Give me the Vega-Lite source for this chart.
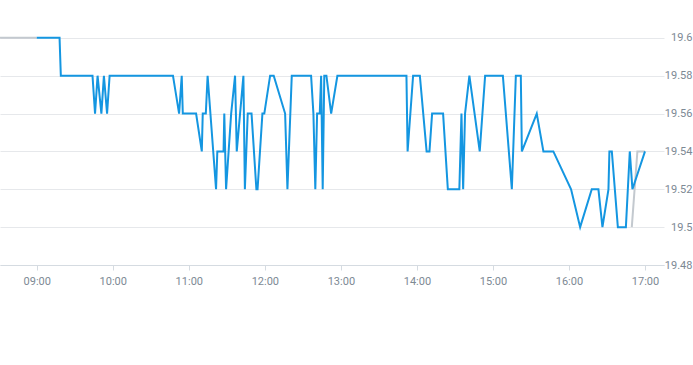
{
  "$schema": "https://vega.github.io/schema/vega-lite/v6.json",
  "width": 664,
  "height": 265,
  "padding": {"left": 0, "top": 0, "right": 29, "bottom": 100},
  "autosize": {"type": "none"},
  "background": "white",
  "config": {
    "view": {"stroke": null},
    "font": "Roboto",
    "axis": {"labelFont": "Roboto", "labelFontSize": 11, "labelColor": "#7d8994"}
  },
  "datasets": {
    "main": [
      {"t": "2024-01-02T09:00:00", "p": 19.60},
      {"t": "2024-01-02T09:18:00", "p": 19.60},
      {"t": "2024-01-02T09:19:00", "p": 19.58},
      {"t": "2024-01-02T09:44:00", "p": 19.58},
      {"t": "2024-01-02T09:46:00", "p": 19.56},
      {"t": "2024-01-02T09:48:00", "p": 19.58},
      {"t": "2024-01-02T09:51:00", "p": 19.56},
      {"t": "2024-01-02T09:53:00", "p": 19.58},
      {"t": "2024-01-02T09:55:30", "p": 19.56},
      {"t": "2024-01-02T09:57:30", "p": 19.58},
      {"t": "2024-01-02T10:47:30", "p": 19.58},
      {"t": "2024-01-02T10:52:20", "p": 19.56},
      {"t": "2024-01-02T10:54:25", "p": 19.58},
      {"t": "2024-01-02T10:55:15", "p": 19.56},
      {"t": "2024-01-02T11:05:45", "p": 19.56},
      {"t": "2024-01-02T11:10:15", "p": 19.54},
      {"t": "2024-01-02T11:11:00", "p": 19.56},
      {"t": "2024-01-02T11:13:25", "p": 19.56},
      {"t": "2024-01-02T11:14:50", "p": 19.58},
      {"t": "2024-01-02T11:21:30", "p": 19.52},
      {"t": "2024-01-02T11:22:30", "p": 19.54},
      {"t": "2024-01-02T11:27:25", "p": 19.54},
      {"t": "2024-01-02T11:28:00", "p": 19.56},
      {"t": "2024-01-02T11:29:25", "p": 19.52},
      {"t": "2024-01-02T11:33:25", "p": 19.56},
      {"t": "2024-01-02T11:36:30", "p": 19.58},
      {"t": "2024-01-02T11:37:50", "p": 19.54},
      {"t": "2024-01-02T11:43:05", "p": 19.58},
      {"t": "2024-01-02T11:44:15", "p": 19.52},
      {"t": "2024-01-02T11:46:30", "p": 19.56},
      {"t": "2024-01-02T11:49:30", "p": 19.56},
      {"t": "2024-01-02T11:53:20", "p": 19.52},
      {"t": "2024-01-02T11:54:15", "p": 19.52},
      {"t": "2024-01-02T11:58:05", "p": 19.56},
      {"t": "2024-01-02T11:59:35", "p": 19.56},
      {"t": "2024-01-02T12:04:10", "p": 19.58},
      {"t": "2024-01-02T12:07:00", "p": 19.58},
      {"t": "2024-01-02T12:16:00", "p": 19.56},
      {"t": "2024-01-02T12:17:50", "p": 19.52},
      {"t": "2024-01-02T12:21:15", "p": 19.58},
      {"t": "2024-01-02T12:36:30", "p": 19.58},
      {"t": "2024-01-02T12:38:20", "p": 19.56},
      {"t": "2024-01-02T12:39:50", "p": 19.52},
      {"t": "2024-01-02T12:41:15", "p": 19.56},
      {"t": "2024-01-02T12:43:20", "p": 19.56},
      {"t": "2024-01-02T12:44:25", "p": 19.58},
      {"t": "2024-01-02T12:45:40", "p": 19.52},
      {"t": "2024-01-02T12:46:55", "p": 19.58},
      {"t": "2024-01-02T12:48:35", "p": 19.58},
      {"t": "2024-01-02T12:52:20", "p": 19.56},
      {"t": "2024-01-02T12:57:15", "p": 19.58},
      {"t": "2024-01-02T13:51:45", "p": 19.58},
      {"t": "2024-01-02T13:52:40", "p": 19.54},
      {"t": "2024-01-02T13:57:00", "p": 19.58},
      {"t": "2024-01-02T14:02:20", "p": 19.58},
      {"t": "2024-01-02T14:07:40", "p": 19.54},
      {"t": "2024-01-02T14:09:55", "p": 19.54},
      {"t": "2024-01-02T14:12:00", "p": 19.56},
      {"t": "2024-01-02T14:20:40", "p": 19.56},
      {"t": "2024-01-02T14:24:25", "p": 19.52},
      {"t": "2024-01-02T14:33:30", "p": 19.52},
      {"t": "2024-01-02T14:35:10", "p": 19.56},
      {"t": "2024-01-02T14:36:30", "p": 19.52},
      {"t": "2024-01-02T14:38:00", "p": 19.56},
      {"t": "2024-01-02T14:41:25", "p": 19.58},
      {"t": "2024-01-02T14:49:35", "p": 19.54},
      {"t": "2024-01-02T14:53:50", "p": 19.58},
      {"t": "2024-01-02T15:07:50", "p": 19.58},
      {"t": "2024-01-02T15:14:55", "p": 19.52},
      {"t": "2024-01-02T15:18:05", "p": 19.58},
      {"t": "2024-01-02T15:22:00", "p": 19.58},
      {"t": "2024-01-02T15:22:50", "p": 19.54},
      {"t": "2024-01-02T15:34:35", "p": 19.56},
      {"t": "2024-01-02T15:39:50", "p": 19.54},
      {"t": "2024-01-02T15:47:40", "p": 19.54},
      {"t": "2024-01-02T16:01:40", "p": 19.52},
      {"t": "2024-01-02T16:08:50", "p": 19.50},
      {"t": "2024-01-02T16:18:00", "p": 19.52},
      {"t": "2024-01-02T16:23:15", "p": 19.52},
      {"t": "2024-01-02T16:26:25", "p": 19.50},
      {"t": "2024-01-02T16:31:10", "p": 19.52},
      {"t": "2024-01-02T16:31:55", "p": 19.54},
      {"t": "2024-01-02T16:33:50", "p": 19.54},
      {"t": "2024-01-02T16:38:35", "p": 19.50},
      {"t": "2024-01-02T16:44:55", "p": 19.50},
      {"t": "2024-01-02T16:48:00", "p": 19.54},
      {"t": "2024-01-02T16:50:05", "p": 19.52},
      {"t": "2024-01-02T17:00:00", "p": 19.54}
    ],
    "pre": [
      {"t": "2024-01-02T08:31:00", "p": 19.60},
      {"t": "2024-01-02T09:00:00", "p": 19.60}
    ],
    "post": [
      {"t": "2024-01-02T16:49:35", "p": 19.50},
      {"t": "2024-01-02T16:54:00", "p": 19.54},
      {"t": "2024-01-02T17:00:00", "p": 19.54}
    ]
  },
  "encoding": {
    "x": {
      "field": "t", "type": "temporal",
      "scale": {"domain": [
        {"year": 2024, "month": 1, "date": 2, "hours": 8, "minutes": 31},
        {"year": 2024, "month": 1, "date": 2, "hours": 17, "minutes": 15}
      ]},
      "axis": {
        "title": null, "format": "%H:%M", "grid": false,
        "values": [
          {"year": 2024, "month": 1, "date": 2, "hours": 9},
          {"year": 2024, "month": 1, "date": 2, "hours": 10},
          {"year": 2024, "month": 1, "date": 2, "hours": 11},
          {"year": 2024, "month": 1, "date": 2, "hours": 12},
          {"year": 2024, "month": 1, "date": 2, "hours": 13},
          {"year": 2024, "month": 1, "date": 2, "hours": 14},
          {"year": 2024, "month": 1, "date": 2, "hours": 15},
          {"year": 2024, "month": 1, "date": 2, "hours": 16},
          {"year": 2024, "month": 1, "date": 2, "hours": 17}
        ],
        "domainColor": "#d5dbe1", "tickColor": "#d5dbe1", "tickSize": 5,
        "labelPadding": 5
      }
    },
    "y": {
      "field": "p", "type": "quantitative",
      "scale": {"domain": [19.48, 19.62], "zero": false, "nice": false},
      "axis": {
        "title": null, "orient": "right", "format": ".4~g",
        "values": [19.48, 19.5, 19.52, 19.54, 19.56, 19.58, 19.6],
        "domain": false, "ticks": false,
        "gridColor": "#e6e8eb",
        "labelAlign": "right", "labelPadding": 28
      }
    }
  },
  "layer": [
    {"data": {"name": "pre"}, "mark": {"type": "line", "color": "#c3c9cf", "strokeWidth": 2}},
    {"data": {"name": "post"}, "mark": {"type": "line", "color": "#c3c9cf", "strokeWidth": 2}},
    {"data": {"name": "main"}, "mark": {"type": "line", "color": "#1496e1", "strokeWidth": 2}}
  ]
}
